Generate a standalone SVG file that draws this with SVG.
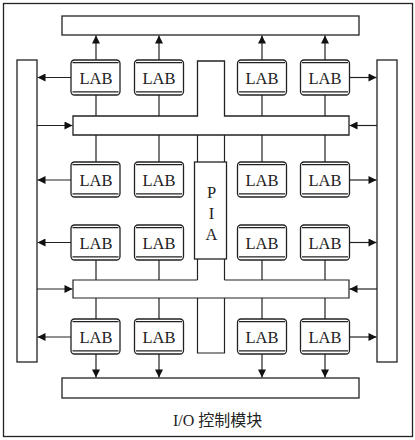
<svg xmlns="http://www.w3.org/2000/svg" width="415" height="440" viewBox="0 0 415 440">
<defs>
<style>
.s{fill:#fff;stroke:#222;stroke-width:1.3}
.l{fill:none;stroke:#222;stroke-width:1.2}
.a{fill:none;stroke:#222;stroke-width:1.2;marker-end:url(#ah)}
.t{font-family:"Liberation Serif","Times New Roman",serif;font-size:16.5px;fill:#222;text-anchor:middle}
.c{font-family:"Liberation Serif","Noto Sans CJK SC",serif;font-size:16px;fill:#222}
</style>
<marker id="ah" viewBox="0 0 10 10" refX="10" refY="5" markerWidth="9" markerHeight="8" markerUnits="userSpaceOnUse" orient="auto">
<path d="M0,0 L10,5 L0,10 Z" fill="#111"/>
</marker>
<g id="labshape">
<rect class="s" x="0" y="0" width="49" height="35" rx="3.5"/>
<line class="l" x1="1.5" y1="2.6" x2="47.5" y2="2.6"/>
<line class="l" x1="1.5" y1="31.8" x2="47.5" y2="31.8" stroke-width="1.6"/>
</g>
</defs>
<rect id="frame" class="s" x="3.5" y="3.5" width="409" height="433" fill="none"/>
<g id="io-top"><rect class="s" x="62" y="16" width="297" height="19"/></g>
<g id="io-bottom"><rect class="s" x="62" y="378" width="297" height="20"/></g>
<g id="io-left"><rect class="s" x="17" y="60" width="20" height="302"/></g>
<g id="io-right"><rect class="s" x="377" y="60" width="20" height="302"/></g>
<g id="bus-upper"><path class="s" d="M73,116 H197.5 V61 H224.5 V116 H349 V135 H73 Z"/></g>
<g id="bus-lower">
<rect x="73" y="280" width="276" height="18" fill="#fff"/>
<path class="l" d="M197.5,280 H73 V298 H349 V280 H224.5" stroke-width="1.3"/>
</g>
<g id="pia">
<path class="l" d="M197.5,135 V162 M224.5,135 V162 M197.5,259 V280 M224.5,259 V280"/>
<path class="l" d="M197.5,298 V353 H224.5 V298"/>
<rect class="s" x="194.5" y="162" width="32" height="97"/>
<text class="t" x="211.5" y="197.5">P</text>
<text class="t" x="211.5" y="218.5">I</text>
<text class="t" x="211.5" y="239.5">A</text>
</g>
<g id="connectors">
<path class="a" d="M96,60 V35.5"/>
<path class="a" d="M159,60 V35.5"/>
<path class="a" d="M262,60 V35.5"/>
<path class="a" d="M325,60 V35.5"/>
<path class="l" d="M96,95 V116 M159,95 V116 M262,95 V116 M325,95 V116"/>
<path class="l" d="M96,135 V162 M159,135 V162 M262,135 V162 M325,135 V162"/>
<path class="l" d="M96,260 V280 M159,260 V280 M262,260 V280 M325,260 V280"/>
<path class="l" d="M96,298 V319 M159,298 V319 M262,298 V319 M325,298 V319"/>
<path class="a" d="M96,354 V377.5"/>
<path class="a" d="M159,354 V377.5"/>
<path class="a" d="M262,354 V377.5"/>
<path class="a" d="M325,354 V377.5"/>
<path class="a" d="M71,77.5 H37.5"/>
<path class="a" d="M71,180 H37.5"/>
<path class="a" d="M71,242.5 H37.5"/>
<path class="a" d="M71,337 H37.5"/>
<path class="a" d="M349,77.5 H376.5"/>
<path class="a" d="M349,180 H376.5"/>
<path class="a" d="M349,242.5 H376.5"/>
<path class="a" d="M349,337 H376.5"/>
<path class="a" d="M37,125.5 H72.5"/>
<path class="a" d="M377,125.5 H349.5"/>
<path class="a" d="M37,289 H72.5"/>
<path class="a" d="M377,289 H349.5"/>
</g>
<g id="lab-1-1"><use href="#labshape" x="71" y="60"/><text class="t" x="96" y="83.5">LAB</text></g>
<g id="lab-1-2"><use href="#labshape" x="134.5" y="60"/><text class="t" x="159" y="83.5">LAB</text></g>
<g id="lab-1-3"><use href="#labshape" x="237.5" y="60"/><text class="t" x="262" y="83.5">LAB</text></g>
<g id="lab-1-4"><use href="#labshape" x="300.5" y="60"/><text class="t" x="325" y="83.5">LAB</text></g>
<g id="lab-2-1"><use href="#labshape" x="71" y="162"/><text class="t" x="96" y="185.5">LAB</text></g>
<g id="lab-2-2"><use href="#labshape" x="134.5" y="162"/><text class="t" x="159" y="185.5">LAB</text></g>
<g id="lab-2-3"><use href="#labshape" x="237.5" y="162"/><text class="t" x="262" y="185.5">LAB</text></g>
<g id="lab-2-4"><use href="#labshape" x="300.5" y="162"/><text class="t" x="325" y="185.5">LAB</text></g>
<g id="lab-3-1"><use href="#labshape" x="71" y="225"/><text class="t" x="96" y="248.5">LAB</text></g>
<g id="lab-3-2"><use href="#labshape" x="134.5" y="225"/><text class="t" x="159" y="248.5">LAB</text></g>
<g id="lab-3-3"><use href="#labshape" x="237.5" y="225"/><text class="t" x="262" y="248.5">LAB</text></g>
<g id="lab-3-4"><use href="#labshape" x="300.5" y="225"/><text class="t" x="325" y="248.5">LAB</text></g>
<g id="lab-4-1"><use href="#labshape" x="71" y="319"/><text class="t" x="96" y="342.5">LAB</text></g>
<g id="lab-4-2"><use href="#labshape" x="134.5" y="319"/><text class="t" x="159" y="342.5">LAB</text></g>
<g id="lab-4-3"><use href="#labshape" x="237.5" y="319"/><text class="t" x="262" y="342.5">LAB</text></g>
<g id="lab-4-4"><use href="#labshape" x="300.5" y="319"/><text class="t" x="325" y="342.5">LAB</text></g>
<text class="c" x="173" y="425.5">I/O 控制模块</text>
</svg>
